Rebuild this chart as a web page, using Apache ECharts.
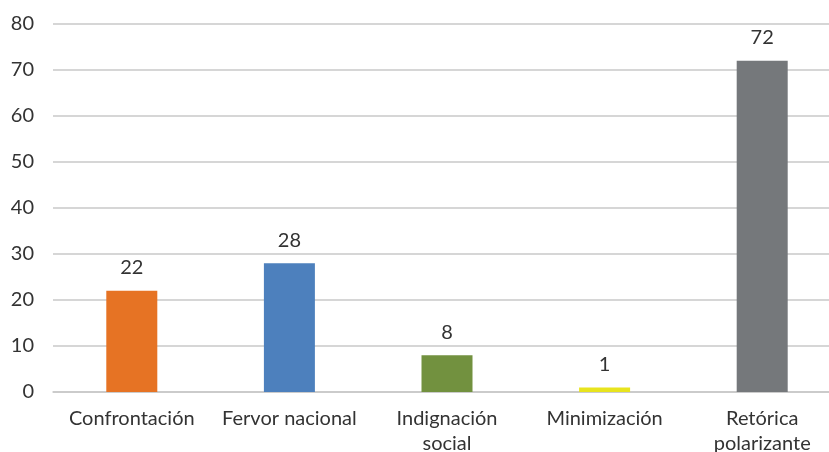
<!DOCTYPE html>
<html>
<head>
<meta charset="utf-8">
<script src="https://cdn.jsdelivr.net/npm/echarts@6/dist/echarts.min.js"></script>
<style>
  html, body { margin: 0; padding: 0; background: #fff; }
  #chart { width: 829px; height: 452px; }
</style>
</head>
<body>
<div id="chart"></div>
<script type="application/javascript">
const categories = ['Confrontación', 'Fervor nacional', 'Indignación\nsocial', 'Minimización', 'Retórica\npolarizante'];
const values = [22, 28, 8, 1, 72];
const barColors = ['#E67324', '#4D80BD', '#72913F', '#E8E41E', '#75787B'];

const chart = echarts.init(document.getElementById('chart'));
const font = 'Lato, "Open Sans", sans-serif';

chart.setOption({
  animation: false,
  grid: {
    left: 53,
    right: -12,
    top: 24,
    bottom: 60,
    outerBoundsMode: 'none'
  },
  xAxis: {
    type: 'category',
    data: categories,
    axisLine: { show: true, lineStyle: { color: '#c8c8c8', width: 1.5 } },
    axisTick: { show: false },
    axisLabel: {
      color: '#333',
      fontSize: 20,
      fontFamily: font,
      margin: 14,
      lineHeight: 25,
      interval: 0
    }
  },
  yAxis: {
    type: 'value',
    min: 0,
    max: 80,
    interval: 10,
    axisLine: { show: false },
    axisTick: { show: false },
    splitLine: { lineStyle: { color: '#c8c8c8', width: 1.5 } },
    axisLabel: {
      color: '#333',
      fontSize: 20,
      fontFamily: font,
      margin: 19
    }
  },
  series: [{
    type: 'bar',
    barWidth: 51,
    data: values.map((v, i) => ({ value: v, itemStyle: { color: barColors[i] } })),
    label: {
      show: true,
      position: 'top',
      distance: 13,
      color: '#333',
      fontSize: 20,
      fontFamily: font
    }
  }]
});
</script>
</body>
</html>
